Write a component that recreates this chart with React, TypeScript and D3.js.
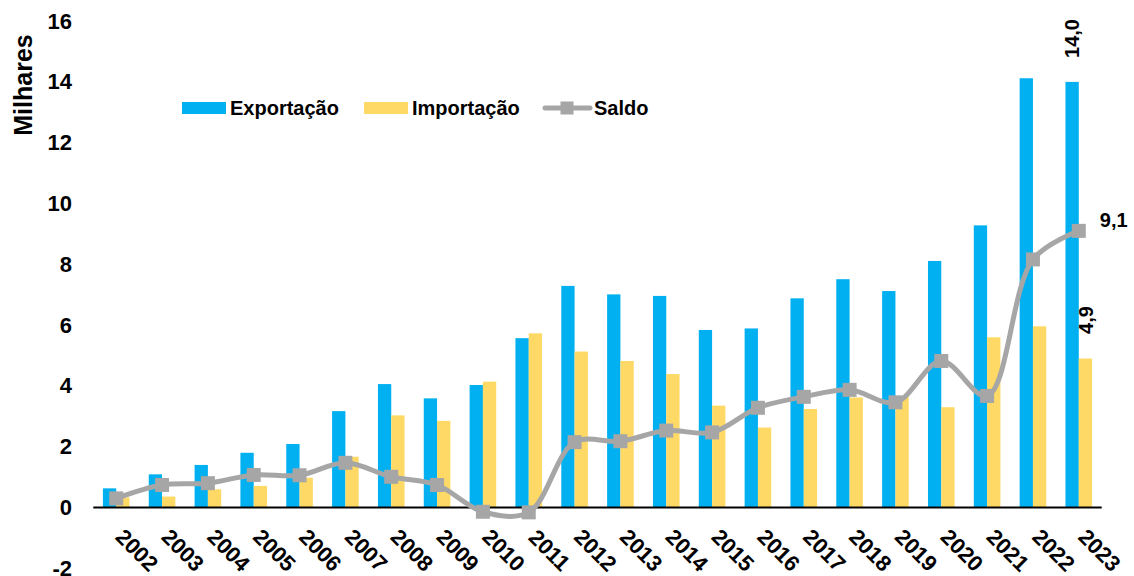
import * as React from "react";
import * as d3 from "d3";

const years = ["2002", "2003", "2004", "2005", "2006", "2007", "2008", "2009", "2010", "2011", "2012",
  "2013", "2014", "2015", "2016", "2017", "2018", "2019", "2020", "2021", "2022", "2023"];
const exportacao = [0.63, 1.09, 1.4, 1.8, 2.09, 3.17, 4.06, 3.59, 4.03, 5.57, 7.29,
  7.01, 6.96, 5.84, 5.89, 6.88, 7.51, 7.12, 8.11, 9.28, 14.12, 14.0];
const importacao = [0.33, 0.36, 0.6, 0.71, 0.98, 1.67, 3.03, 2.85, 4.14, 5.73, 5.13,
  4.82, 4.39, 3.35, 2.63, 3.24, 3.62, 3.64, 3.3, 5.6, 5.96, 4.9];
const saldo = [0.3, 0.74, 0.8, 1.07, 1.06, 1.47, 1.01, 0.74, -0.14, -0.16, 2.15,
  2.18, 2.53, 2.47, 3.28, 3.64, 3.87, 3.46, 4.82, 3.67, 8.16, 9.1];
const yTicks = [-2, 0, 2, 4, 6, 8, 10, 12, 14, 16];

const FONT = "'Liberation Sans', Arial, sans-serif";
const BLUE = "#00B0F0";
const YELLOW = "#FFD966";
const GREY = "#A6A6A6";

function drawChart(svgRef: React.RefObject<SVGSVGElement | null>) {
  const width = 1134;
  const height = 576;
  const plotLeft = 93.3;
  const plotRight = 1101.7;

  const x = d3.scaleBand<string>().domain(years).range([plotLeft, plotRight]).padding(0);
  const barW = 13.3;
  const y = d3.scaleLinear().domain([-2, 16]).range([568.3, 21.1]);
  const cx = (i: number) => (x(years[i]) as number) + x.bandwidth() / 2;
  const fmt = (v: number) => d3.format(".1f")(v).replace(".", ",");

  const svg = d3.select(svgRef.current).attr("width", width).attr("height", height);
  svg.selectAll("*").remove();
  const g = svg.append("g").attr("font-family", FONT).attr("font-weight", "bold").attr("fill", "#000");

  // y tick labels (no axis line)
  g.append("g")
    .selectAll("text")
    .data(yTicks)
    .enter()
    .append("text")
    .attr("x", 72)
    .attr("y", d => y(d))
    .attr("dy", "0.34em")
    .attr("text-anchor", "end")
    .attr("font-size", 22)
    .text(d => d);

  g.append("text")
    .attr("transform", "translate(32, 85) rotate(-90)")
    .attr("text-anchor", "middle")
    .attr("font-size", 25)
    .text("Milhares");

  // bars
  g.append("g")
    .selectAll("rect")
    .data(exportacao)
    .enter()
    .append("rect")
    .attr("x", (d, i) => cx(i) - barW)
    .attr("width", barW)
    .attr("y", d => y(Math.max(0, d)))
    .attr("height", d => Math.abs(y(d) - y(0)))
    .attr("fill", BLUE);

  g.append("g")
    .selectAll("rect")
    .data(importacao)
    .enter()
    .append("rect")
    .attr("x", (d, i) => cx(i))
    .attr("width", barW)
    .attr("y", d => y(Math.max(0, d)))
    .attr("height", d => Math.abs(y(d) - y(0)))
    .attr("fill", YELLOW);

  // zero line
  g.append("line")
    .attr("x1", plotLeft)
    .attr("x2", plotRight)
    .attr("y1", y(0))
    .attr("y2", y(0))
    .attr("stroke", "#000")
    .attr("stroke-width", 2);

  // saldo line
  const line = d3.line<number>()
    .x((d, i) => cx(i))
    .y(d => y(d))
    .curve(d3.curveCatmullRom.alpha(0.5));

  g.append("path")
    .datum(saldo)
    .attr("d", line)
    .attr("fill", "none")
    .attr("stroke", GREY)
    .attr("stroke-width", 5)
    .attr("stroke-linejoin", "round");

  const mk = 14;
  g.append("g")
    .selectAll("rect")
    .data(saldo)
    .enter()
    .append("rect")
    .attr("x", (d, i) => cx(i) - mk / 2)
    .attr("y", d => y(d) - mk / 2)
    .attr("width", mk)
    .attr("height", mk)
    .attr("fill", GREY);

  // year labels
  g.append("g")
    .selectAll("text")
    .data(years)
    .enter()
    .append("text")
    .attr("transform", (d, i) => `translate(${cx(i) + 21}, 550) rotate(45)`)
    .attr("text-anchor", "middle")
    .attr("dy", "0.36em")
    .attr("font-size", 22)
    .text(d => d);

  // data labels
  const last = years.length - 1;
  g.append("text")
    .attr("transform", `translate(${cx(last) - barW / 2}, 38.5) rotate(-90)`)
    .attr("text-anchor", "middle")
    .attr("dy", "0.36em")
    .attr("font-size", 20)
    .text(fmt(exportacao[last]));

  g.append("text")
    .attr("transform", `translate(${cx(last) + barW / 2}, 320) rotate(-90)`)
    .attr("text-anchor", "middle")
    .attr("dy", "0.36em")
    .attr("font-size", 20)
    .text(fmt(importacao[last]));

  g.append("text")
    .attr("x", cx(last) + 21)
    .attr("y", y(saldo[last]) - 4)
    .attr("font-size", 20)
    .text(fmt(saldo[last]));

  // legend
  const leg = g.append("g").attr("font-size", 20);
  leg.append("rect").attr("x", 182).attr("y", 102).attr("width", 44).attr("height", 12).attr("fill", BLUE);
  leg.append("text").attr("x", 230).attr("y", 108).attr("dy", "0.36em").text("Exportação");
  leg.append("rect").attr("x", 364).attr("y", 102).attr("width", 44).attr("height", 12).attr("fill", YELLOW);
  leg.append("text").attr("x", 412).attr("y", 108).attr("dy", "0.36em").text("Importação");
  leg.append("line").attr("x1", 545).attr("x2", 590).attr("y1", 108).attr("y2", 108)
    .attr("stroke", GREY).attr("stroke-width", 5).attr("stroke-linecap", "round");
  leg.append("rect").attr("x", 560.5).attr("y", 101.5).attr("width", 13).attr("height", 13).attr("fill", GREY);
  leg.append("text").attr("x", 594).attr("y", 108).attr("dy", "0.36em").text("Saldo");
}

const App = () => {
  const svgRef = React.useRef<SVGSVGElement>(null);

  React.useEffect(() => {
    drawChart(svgRef);
  }, [svgRef]);

  return (
    <div style={{ position: "absolute", left: 0, top: 0, background: "#fff" }}>
      <svg ref={svgRef} style={{ display: "block" }} />
    </div>
  );
};

export default App;
